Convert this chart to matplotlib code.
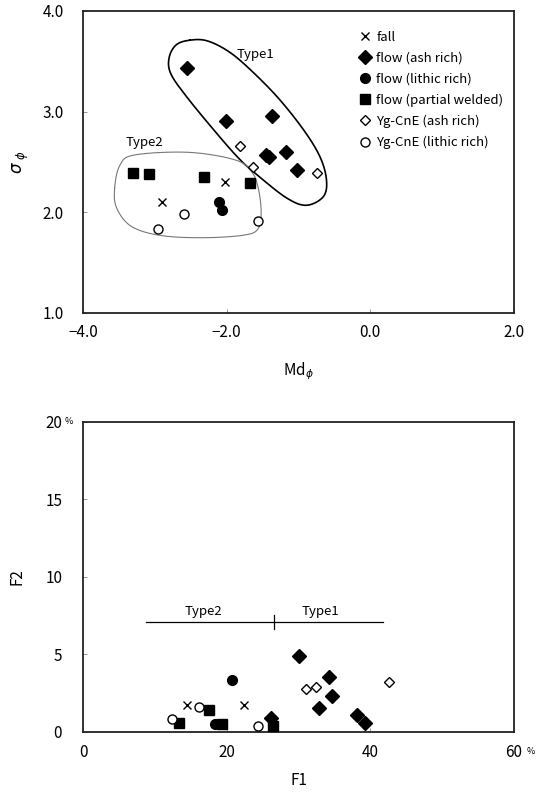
import numpy as np
import matplotlib
matplotlib.use("Agg")
import matplotlib.pyplot as plt

plt.rcParams['font.family'] = ['Noto Sans CJK JP', 'DejaVu Sans']
plt.rcParams['mathtext.fontset'] = 'dejavusans'

# ---------------- data: top plot (Md_phi, sigma_phi) ----------------
fall_md = [-2.02, -2.90]
fall_sd = [2.30, 2.10]
ash_md = [-2.55, -2.01, -1.37, -1.45, -1.41, -1.18, -1.02]
ash_sd = [3.43, 2.91, 2.96, 2.57, 2.55, 2.60, 2.42]
lith_md = [-2.11, -2.06]
lith_sd = [2.10, 2.02]
weld_md = [-3.31, -3.08, -2.32, -1.68]
weld_sd = [2.39, 2.38, 2.35, 2.29]
ygash_md = [-1.82, -1.63, -0.74]
ygash_sd = [2.66, 2.45, 2.39]
yglith_md = [-2.95, -2.59, -1.56]
yglith_sd = [1.83, 1.98, 1.91]

# enclosure outlines (data coords)
type1_x = [-2.51, -2.28, -2.00, -1.72, -1.30, -0.93, -0.70, -0.61, -0.655, -0.89,
           -1.16, -1.54, -1.81, -2.14, -2.56, -2.78, -2.80, -2.70]
type1_y = [3.71, 3.705, 3.61, 3.45, 3.15, 2.82, 2.55, 2.32, 2.155, 2.07,
           2.14, 2.35, 2.52, 2.785, 3.15, 3.38, 3.54, 3.665]
type2_x = [-3.56, -3.485, -3.28, -2.53, -1.88, -1.65, -1.56, -1.52, -1.56, -1.745,
           -2.30, -2.90, -3.32, -3.53]
type2_y = [2.24, 2.47, 2.57, 2.596, 2.52, 2.40, 2.24, 2.006, 1.84, 1.775,
           1.748, 1.768, 1.857, 2.04]

# ---------------- data: bottom plot (F1, F2 in %) ----------------
fall_f1 = [14.5, 22.4]
fall_f2 = [1.72, 1.72]
ash_f1 = [30.1, 34.3, 34.6, 32.9, 38.2, 39.2, 26.2]
ash_f2 = [4.89, 3.51, 2.29, 1.51, 1.06, 0.54, 0.86]
lith_f1 = [20.8, 18.4]
lith_f2 = [3.34, 0.50]
weld_f1 = [13.4, 17.5, 19.3, 26.5]
weld_f2 = [0.58, 1.40, 0.50, 0.37]
ygash_f1 = [31.0, 32.5, 42.6]
ygash_f2 = [2.78, 2.91, 3.19]
yglith_f1 = [12.4, 16.2, 24.4]
yglith_f2 = [0.82, 1.62, 0.39]

type_line_x = [8.8, 41.8]
type_line_y = 7.07
type_split_x = 26.6

labels = ["fall", "flow (ash rich)", "flow (lithic rich)", "flow (partial welded)",
          "Yg-CnE (ash rich)", "Yg-CnE (lithic rich)"]


def closed_spline(xs, ys, n=30):
    P = np.column_stack([xs, ys])
    m = len(P)
    out = []
    for i in range(m):
        p0, p1, p2, p3 = P[(i - 1) % m], P[i], P[(i + 1) % m], P[(i + 2) % m]
        t = np.linspace(0, 1, n, endpoint=False)[:, None]
        pts = 0.5 * ((2 * p1) + (-p0 + p2) * t + (2 * p0 - 5 * p1 + 4 * p2 - p3) * t ** 2
                     + (-p0 + 3 * p1 - 3 * p2 + p3) * t ** 3)
        out.append(pts)
    out = np.vstack(out + [out[0][:1]])
    return out[:, 0], out[:, 1]


def plot_series(ax, data):
    (fx, fy), (ax_, ay), (lx, ly), (wx, wy), (gx, gy), (ox, oy) = data
    ax.plot(fx, fy, ls='none', marker='x', ms=6, mew=1.0, color='black', label=labels[0], zorder=5)
    ax.plot(ax_, ay, ls='none', marker='D', ms=7, color='black', label=labels[1], zorder=5)
    ax.plot(lx, ly, ls='none', marker='o', ms=7, color='black', label=labels[2], zorder=5)
    ax.plot(wx, wy, ls='none', marker='s', ms=6.5, color='black', label=labels[3], zorder=5)
    ax.plot(gx, gy, ls='none', marker='D', ms=5, mfc='white', mec='black', mew=1.0, label=labels[4], zorder=5)
    ax.plot(ox, oy, ls='none', marker='o', ms=6.5, mfc='white', mec='black', mew=1.0, label=labels[5], zorder=5)


def style_axes(ax):
    for s in ax.spines.values():
        s.set_linewidth(1.3)
        s.set_color('#222222')
    ax.tick_params(direction='in', length=3, width=0.6, color='#888888', labelsize=11)


fig = plt.figure(figsize=(5.36, 7.95), dpi=100)

# ---------- top ----------
ax1 = fig.add_axes([0.1549, 0.6063, 0.804, 0.3799])
plot_series(ax1, [(fall_md, fall_sd), (ash_md, ash_sd), (lith_md, lith_sd),
                  (weld_md, weld_sd), (ygash_md, ygash_sd), (yglith_md, yglith_sd)])
sx, sy = closed_spline(type1_x, type1_y)
ax1.plot(sx, sy, color='black', lw=1.2, zorder=3)
sx, sy = closed_spline(type2_x, type2_y)
ax1.plot(sx, sy, color='#777777', lw=0.8, zorder=3)
ax1.text(-1.60, 3.57, "Type1", fontsize=9.5, ha='center', va='center')
ax1.text(-3.15, 2.69, "Type2", fontsize=9.5, ha='center', va='center')
ax1.set_xlim(-4, 2)
ax1.set_ylim(1, 4)
ax1.set_xticks([-4, -2, 0, 2])
ax1.set_xticklabels(["\u22124.0", "\u22122.0", "0.0", "2.0"])
ax1.set_yticks([1, 2, 3, 4])
ax1.set_yticklabels(["1.0", "2.0", "3.0", "4.0"])
style_axes(ax1)
ax1.tick_params(axis='x', pad=8)
ax1.tick_params(axis='y', pad=14)
ax1.set_xlabel(r"Md$_{\phi}$", fontsize=11, labelpad=14)
ax1.set_ylabel(r"$\sigma$ $_{\phi}$", fontsize=12, labelpad=8)
leg = ax1.legend(loc='upper left', bbox_to_anchor=(0.632, 0.952), frameon=False, fontsize=9.5,
                 handlelength=0.6, handletextpad=0.6, labelspacing=0.6, borderaxespad=0)

# ---------- bottom ----------
ax2 = fig.add_axes([0.1549, 0.0796, 0.804, 0.3896])
plot_series(ax2, [(fall_f1, fall_f2), (ash_f1, ash_f2), (lith_f1, lith_f2),
                  (weld_f1, weld_f2), (ygash_f1, ygash_f2), (yglith_f1, yglith_f2)])
ax2.plot(type_line_x, [type_line_y, type_line_y], color='black', lw=0.9)
ax2.plot([type_split_x, type_split_x], [type_line_y - 0.45, type_line_y + 0.45], color='black', lw=0.9)
ax2.text(16.7, 7.75, "Type2", fontsize=9.5, ha='center', va='center')
ax2.text(33.1, 7.75, "Type1", fontsize=9.5, ha='center', va='center')
ax2.set_xlim(0, 60)
ax2.set_ylim(0, 20)
ax2.set_xticks([0, 20, 40, 60])
ax2.set_yticks([0, 5, 10, 15, 20])
style_axes(ax2)
ax2.tick_params(axis='x', pad=9)
ax2.tick_params(axis='y', pad=15)
ax2.annotate("%", xy=(60, 0), xycoords='data', xytext=(12, -14), textcoords='offset points',
             fontsize=6.5, ha='center', va='center', annotation_clip=False)
ax2.annotate("%", xy=(0, 20), xycoords='data', xytext=(-10.5, 0), textcoords='offset points',
             fontsize=6.5, ha='center', va='center', annotation_clip=False)
ax2.set_xlabel("F1", fontsize=11, labelpad=8)
ax2.set_ylabel("F2", fontsize=11, labelpad=14)

fig.savefig("out.png", dpi=100)
